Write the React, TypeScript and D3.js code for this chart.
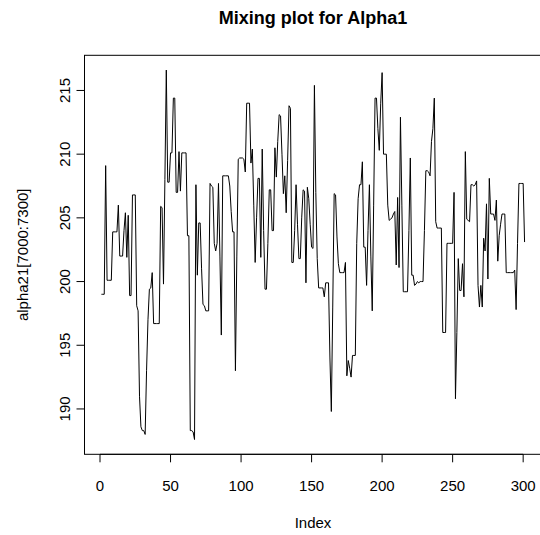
import React from "react";
import * as d3 from "d3";

const values: number[] = [
  199.0, 199.0, 199.0, 209.1, 200.1, 200.1, 200.1, 200.1, 203.9, 203.9,
  203.9, 203.9, 206.0, 202.0, 202.0, 202.0, 204.0, 205.4, 201.9, 205.2,
  198.9, 198.9, 206.8, 206.8, 206.8, 198.1, 197.7, 191.0, 188.6, 188.3,
  188.3, 188.0, 193.0, 197.0, 199.4, 199.5, 200.7, 196.7, 196.7, 196.7,
  196.7, 196.7, 205.9, 205.8, 199.8, 208.0, 216.6, 207.8, 207.8, 210.1,
  210.1, 214.4, 214.4, 207.0, 207.0, 210.2, 207.1, 210.1, 210.1, 210.1,
  210.1, 203.6, 203.6, 188.3, 188.3, 188.2, 187.6, 207.6, 200.5, 204.6,
  204.6, 201.0, 198.2, 198.1, 197.7, 197.7, 197.7, 207.7, 207.5, 207.4,
  203.0, 202.4, 203.0, 207.7, 202.0, 195.8, 208.3, 208.3, 208.3, 208.3,
  208.3, 207.5, 205.5, 203.9, 203.9, 193.0, 202.0, 209.6, 209.7, 209.7,
  209.7, 209.6, 208.6, 214.0, 214.0, 214.0, 209.3, 210.4, 206.0, 201.5,
  205.0, 208.1, 208.1, 201.9, 210.4, 204.0, 199.4, 199.4, 203.0, 207.2,
  207.2, 204.0, 204.0, 210.5, 208.2, 211.0, 213.1, 213.0, 210.0, 206.9,
  208.3, 205.4, 209.5, 213.8, 213.6, 201.5, 201.5, 204.0, 207.6, 204.5,
  201.8, 201.8, 205.0, 207.2, 207.1, 199.9, 207.4, 206.5, 204.5, 202.7,
  202.6, 215.4, 207.0, 201.8, 199.5, 199.5, 199.5, 199.5, 198.8, 199.9,
  199.9, 199.9, 194.0, 189.8, 198.0, 206.9, 206.8, 203.5, 201.4, 200.7,
  200.7, 200.7, 200.7, 201.5, 192.6, 193.8, 193.2, 192.5, 194.2, 194.2,
  194.2, 203.0, 206.5, 207.6, 207.6, 209.4, 202.7, 202.7, 199.7, 204.0,
  207.6, 202.0, 197.7, 206.0, 214.4, 214.4, 212.0, 210.3, 214.0, 216.4,
  210.0, 210.0, 210.0, 206.0, 204.8, 204.9, 205.0, 205.3, 205.5, 201.3,
  206.6, 201.1, 212.9, 206.0, 199.2, 199.2, 199.2, 199.2, 204.0, 209.7,
  200.5, 200.5, 199.7, 199.8, 200.0, 199.9, 200.0, 200.0, 200.0, 204.0,
  208.7, 208.7, 208.6, 208.3, 211.0, 212.0, 214.4, 204.7, 204.2, 204.2,
  204.2, 204.2, 196.0, 196.0, 196.0, 203.0, 203.0, 203.0, 203.0, 203.0,
  207.0, 190.8, 196.0, 201.8, 199.3, 199.3, 201.4, 198.8, 210.2, 204.9,
  204.8, 204.7, 207.6, 207.6, 207.5, 207.6, 207.9, 199.7, 198.0, 199.7,
  198.0, 203.4, 202.4, 206.1, 200.2, 208.1, 205.3, 205.3, 205.3, 204.8,
  206.4, 201.6, 203.6, 204.5, 205.3, 205.3, 205.3, 200.7, 200.7, 200.7,
  200.7, 200.7, 200.7, 200.9, 197.8, 203.0, 207.7, 207.7, 207.7, 207.7,
  203.1,
];

const xTicks: number[] = [0, 50, 100, 150, 200, 250, 300];
const yTicks: number[] = [190, 195, 200, 205, 210, 215];

const title = "Mixing plot for Alpha1";
const xLabel = "Index";
const yLabel = "alpha21[7000:7300]";

const W = 540;
const H = 535;
const plotLeft = 84.5;
const plotRight = 541.5;
const plotTop = 55.3;
const plotBottom = 454.3;
const font = "'Liberation Sans', Arial, Helvetica, sans-serif";

export default function App() {
  const n = values.length;
  const xPad = 0.04 * (n - 1);
  const x = d3
    .scaleLinear()
    .domain([1 - xPad, n + xPad])
    .range([plotLeft, plotRight]);
  const [ymin, ymax] = d3.extent(values) as [number, number];
  const yPad = 0.04 * (ymax - ymin);
  const y = d3
    .scaleLinear()
    .domain([ymin - yPad, ymax + yPad])
    .range([plotBottom, plotTop]);

  const line = d3
    .line<number>()
    .x((_, i) => x(i + 1))
    .y((d) => y(d));

  const tickLen = 8;
  const cx = (plotLeft + plotRight) / 2;
  const cy = (plotTop + plotBottom) / 2;

  return (
    <svg
      width={W}
      height={H}
      style={{ position: "absolute", left: 0, top: 0, background: "#fff", display: "block" }}
      fontFamily={font}
    >
      <rect x={0} y={0} width={W} height={H} fill="#fff" />
      <defs>
        <clipPath id="plotclip">
          <rect x={plotLeft} y={plotTop} width={plotRight - plotLeft} height={plotBottom - plotTop} />
        </clipPath>
      </defs>
      <path d={line(values) || ""} fill="none" stroke="#000" strokeWidth={1} clipPath="url(#plotclip)" />
      <rect
        x={plotLeft}
        y={plotTop}
        width={plotRight - plotLeft}
        height={plotBottom - plotTop}
        fill="none"
        stroke="#000"
        strokeWidth={1}
      />
      {/* x axis */}
      <line x1={x(xTicks[0])} x2={x(xTicks[xTicks.length - 1])} y1={plotBottom} y2={plotBottom} stroke="#000" />
      {xTicks.map((t) => (
        <g key={"xt" + t}>
          <line x1={x(t)} x2={x(t)} y1={plotBottom} y2={plotBottom + tickLen} stroke="#000" />
          <text x={x(t)} y={491} fontSize={15} textAnchor="middle" fill="#000">
            {t}
          </text>
        </g>
      ))}
      {/* y axis */}
      {yTicks.map((t) => (
        <g key={"yt" + t}>
          <line x1={plotLeft} x2={plotLeft - tickLen} y1={y(t)} y2={y(t)} stroke="#000" />
          <text
            transform={`translate(69.5,${y(t)}) rotate(-90)`}
            fontSize={15}
            textAnchor="middle"
            fill="#000"
          >
            {t}
          </text>
        </g>
      ))}
      <text x={cx} y={24} fontSize={18} fontWeight="bold" textAnchor="middle" fill="#000">
        {title}
      </text>
      <text x={cx} y={528} fontSize={15} textAnchor="middle" fill="#000">
        {xLabel}
      </text>
      <text transform={`translate(27.5,${cy}) rotate(-90)`} fontSize={15} textAnchor="middle" fill="#000">
        {yLabel}
      </text>
    </svg>
  );
}
